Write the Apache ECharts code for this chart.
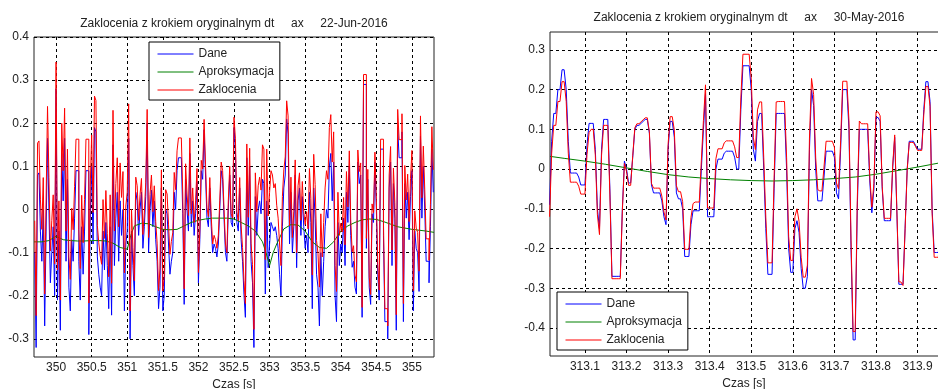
<!DOCTYPE html>
<html>
<head>
<meta charset="utf-8">
<script src="https://cdn.jsdelivr.net/npm/echarts@6/dist/echarts.min.js"></script>
<style>
html,body{margin:0;padding:0;background:#fff}
#chart{width:938px;height:389px}
</style>
</head>
<body>
<div id="chart"></div>
<script>
// ---- left plot: 22-Jun-2016, samples every 0.02 s from 349.70 s
var leftT0 = 349.70, leftDt = 0.02;
var leftDane = [
  -0.1, -0.32, 0.08, 0.085, -0.05, -0.12, 0.0, -0.27, -0.05, 0.165,
  0.0, -0.17, -0.1, -0.04, -0.2, 0.28, -0.21, -0.05, -0.28, 0.13,
  0.02, 0.165, -0.12, 0.07, -0.18, -0.235, -0.07, -0.12, -0.02, 0.09,
  0.09, -0.12, -0.21, -0.04, -0.15, -0.05, 0.09, 0.09, -0.29, -0.02,
  0.1, -0.08, 0.19, 0.18, -0.11, -0.15, -0.18, -0.2, -0.05, -0.14,
  -0.03, -0.13, -0.23, -0.04, -0.245, 0.15, -0.13, -0.02, 0.04, -0.12,
  0.02, -0.06, 0.0, -0.235, -0.08, -0.05, 0.165, -0.3, -0.05, -0.13,
  -0.2, 0.04, 0.02, -0.06, 0.0, 0.04, -0.09, -0.04, 0.03, 0.2,
  -0.1, 0.0, 0.045, -0.04, 0.02, -0.07, -0.12, -0.23, -0.18, 0.05,
  -0.235, -0.2, 0.0, -0.01, -0.08, -0.15, -0.12, -0.1, 0.04, 0.0,
  0.09, 0.12, 0.12, 0.12, -0.01, -0.22, 0.07, 0.0, -0.05, 0.13,
  -0.04, 0.02, -0.06, -0.01, 0.065, -0.17, -0.07, 0.09, 0.07, 0.185,
  0.08, -0.02, -0.04, 0.05, -0.04, -0.1, -0.08, -0.09, -0.11, -0.08,
  0.0, 0.09, 0.07, -0.02, -0.1, -0.12, 0.0, 0.08, -0.03, -0.04,
  0.19, 0.14, -0.03, -0.05, 0.05, -0.07, -0.12, -0.196, -0.25, 0.12,
  -0.06, 0.1, -0.12, -0.17, -0.32, 0.03, -0.06, 0.0, 0.02, -0.01,
  0.07, 0.06, -0.196, 0.02, -0.135, -0.08, -0.03, -0.04, -0.05, -0.04,
  -0.06, -0.09, -0.15, -0.2, -0.04, 0.05, 0.08, 0.21, 0.175, -0.08,
  0.04, -0.1, -0.04, 0.08, -0.135, 0.02, 0.05, -0.06, 0.03, -0.04,
  -0.09, -0.06, -0.1, 0.04, -0.03, -0.23, 0.05, -0.02, -0.15, -0.18,
  -0.27, -0.1, -0.2, -0.12, -0.04, 0.0, -0.02, 0.1, 0.13, 0.02,
  0.11, -0.2, -0.26, -0.03, -0.13, -0.08, -0.1, -0.02, -0.13, 0.04,
  -0.03, 0.1, -0.06, -0.134, -0.12, -0.18, -0.196, 0.11, 0.06, 0.08,
  -0.25, 0.29, 0.29, -0.09, 0.07, -0.18, -0.22, -0.01, -0.03, 0.11,
  0.0, -0.15, -0.21, 0.14, 0.14, -0.06, -0.26, -0.26, -0.3, 0.05,
  0.11, -0.13, 0.06, -0.02, -0.28, 0.19, 0.12, 0.12, 0.18, -0.26,
  0.06, -0.02, 0.04, -0.07, 0.03, 0.09, -0.235, -0.05, -0.09, -0.1,
  -0.19, 0.17, -0.02, 0.1, 0.0, -0.12, -0.12, -0.17, -0.04, 0.14, 0.04
];
var leftZakl = [
  -0.026, -0.246, 0.154, 0.159, 0.024, -0.046, 0.074, -0.196, 0.024, 0.239,
  0.074, -0.096, -0.026, 0.034, -0.126, 0.342, -0.14, 0.02, -0.21, 0.2,
  0.09, 0.235, -0.05, 0.14, -0.11, -0.162, 0.003, -0.047, 0.053, 0.163,
  0.163, -0.047, -0.137, 0.033, -0.077, 0.023, 0.163, 0.163, -0.217, 0.053,
  0.173, -0.007, 0.263, 0.253, -0.037, -0.077, -0.107, -0.127, 0.023, -0.067,
  0.044, -0.056, -0.156, 0.034, -0.171, 0.23, -0.05, 0.06, 0.12, -0.04,
  0.108, 0.028, 0.088, -0.147, 0.008, 0.04, 0.245, -0.235, 0.0, -0.088,
  -0.165, 0.075, 0.055, -0.025, 0.035, 0.072, -0.058, -0.008, 0.062, 0.232,
  -0.065, 0.035, 0.08, -0.005, 0.055, -0.028, -0.078, -0.188, -0.138, 0.092,
  -0.189, -0.154, 0.046, 0.036, -0.034, -0.104, -0.074, -0.054, 0.086, 0.046,
  0.136, 0.166, 0.166, 0.166, 0.036, -0.184, 0.106, 0.036, -0.014, 0.166,
  -0.01, 0.05, -0.03, 0.02, 0.095, -0.146, -0.046, 0.114, 0.094, 0.209,
  0.104, 0.004, -0.016, 0.074, -0.016, -0.08, -0.06, -0.07, -0.09, -0.06,
  0.02, 0.11, 0.09, 0.0, -0.08, -0.1, 0.02, 0.1, -0.01, -0.02,
  0.214, 0.164, -0.006, -0.026, 0.074, -0.038, -0.088, -0.164, -0.218, 0.152,
  -0.018, 0.142, -0.078, -0.128, -0.278, 0.085, -0.005, 0.055, 0.075, 0.045,
  0.15, 0.14, -0.116, 0.14, -0.015, 0.04, 0.09, 0.08, 0.05, 0.06,
  0.01, -0.02, -0.08, -0.13, 0.03, 0.092, 0.122, 0.252, 0.217, -0.038,
  0.075, -0.065, -0.005, 0.115, -0.1, 0.055, 0.085, -0.025, 0.065, -0.005,
  -0.035, -0.005, -0.045, 0.095, 0.025, -0.152, 0.128, 0.058, -0.072, -0.102,
  -0.18, -0.01, -0.11, -0.03, 0.05, 0.09, 0.07, 0.19, 0.22, 0.11,
  0.18, -0.13, -0.19, 0.04, -0.06, -0.032, -0.052, 0.028, -0.082, 0.088,
  0.006, 0.136, -0.024, -0.098, -0.084, -0.152, -0.168, 0.138, 0.088, 0.108,
  -0.227, 0.313, 0.313, -0.067, 0.093, -0.157, -0.197, 0.013, -0.007, 0.133,
  0.023, -0.127, -0.187, 0.163, 0.163, -0.03, -0.23, -0.23, -0.27, 0.08,
  0.146, -0.094, 0.096, 0.016, -0.244, 0.232, 0.162, 0.162, 0.222, -0.218,
  0.102, 0.022, 0.082, -0.028, 0.072, 0.137, -0.188, -0.003, -0.043, -0.053,
  -0.143, 0.217, 0.027, 0.147, 0.047, -0.068, -0.068, -0.118, 0.012, 0.192, 0.092
];
var leftAproxT = [
  349.69, 349.8, 349.9, 350.0, 350.1, 350.2, 350.3, 350.4, 350.5, 350.6,
  350.7, 350.8, 350.9, 351.0, 351.05, 351.1, 351.2, 351.3, 351.4, 351.5,
  351.6, 351.7, 351.8, 351.9, 352.0, 352.1, 352.2, 352.3, 352.4, 352.5,
  352.6, 352.7, 352.8, 352.9, 352.95, 353.0, 353.05, 353.1, 353.2, 353.3,
  353.4, 353.5, 353.6, 353.7, 353.8, 353.9, 354.0, 354.1, 354.2, 354.3,
  354.4, 354.5, 354.6, 354.7, 354.8, 354.9, 355.0, 355.1, 355.2, 355.31
];
var leftAproxV = [
  -0.075, -0.075, -0.072, -0.062, -0.07, -0.072, -0.073, -0.073, -0.072, -0.072,
  -0.073, -0.078, -0.088, -0.092, -0.06, -0.038, -0.032, -0.033, -0.04, -0.046,
  -0.047, -0.046, -0.038, -0.03, -0.025, -0.022, -0.02, -0.02, -0.02, -0.022,
  -0.03, -0.038, -0.05, -0.075, -0.1, -0.13, -0.1, -0.08, -0.045, -0.035,
  -0.036, -0.05, -0.075, -0.088, -0.09, -0.075, -0.05, -0.038, -0.03, -0.024,
  -0.022, -0.023, -0.028, -0.034, -0.04, -0.043, -0.046, -0.048, -0.05, -0.053
];
var leftXTicks = [350, 350.5, 351, 351.5, 352, 352.5, 353, 353.5, 354, 354.5, 355];
var leftYTicks = [-0.3, -0.2, -0.1, 0, 0.1, 0.2, 0.3, 0.4];

// ---- right plot: 30-May-2016, samples every 0.005 s from 313.015 s
var rightT0 = 313.015, rightDt = 0.005;
var rightDane = [
  -0.09, 0.07, 0.14, 0.14, 0.2, 0.2, 0.25, 0.25, 0.2, 0.07,
  -0.01, -0.01, -0.01, -0.01, -0.02, -0.04, -0.04, -0.04, 0.06, 0.115,
  0.115, 0.115, 0.05, -0.1, -0.15, 0.05, 0.125, 0.125, 0.125, -0.05,
  -0.27, -0.27, -0.27, -0.27, -0.27, -0.1, 0.02, 0.0, -0.035, -0.035,
  0.03, 0.1, 0.11, 0.11, 0.115, 0.12, 0.125, 0.125, 0.09, -0.04,
  -0.06, -0.06, -0.06, -0.06, -0.08, -0.12, -0.14, 0.05, 0.12, 0.12,
  0.08, -0.06, -0.075, -0.075, -0.1, -0.22, -0.22, -0.22, -0.14, -0.105,
  -0.105, -0.105, -0.105, 0.0, 0.1, 0.19, -0.12, -0.12, -0.12, -0.12,
  0.0, 0.025, 0.025, 0.025, 0.04, 0.045, 0.045, 0.045, 0.045, 0.03,
  0.0, 0.0, 0.15, 0.26, 0.26, 0.26, 0.26, 0.2, 0.05, 0.02,
  0.12, 0.14, 0.14, 0.0, -0.15, -0.265, -0.265, -0.265, -0.05, 0.14,
  0.14, 0.14, 0.14, 0.14, 0.0, -0.2, -0.26, -0.26, -0.15, -0.13,
  -0.16, -0.25, -0.3, -0.3, -0.27, 0.05, 0.2, 0.16, 0.0, -0.08,
  -0.08, -0.08, -0.02, 0.045, 0.045, 0.045, 0.045, 0.03, -0.06, -0.075,
  0.05, 0.2, 0.2, 0.2, 0.1, -0.2, -0.43, -0.43, -0.1, 0.1,
  0.1, 0.1, 0.1, 0.1, -0.03, -0.11, -0.05, 0.13, 0.13, 0.12,
  -0.05, -0.13, -0.13, -0.13, -0.13, 0.0, 0.08, -0.1, -0.29, -0.29,
  -0.29, -0.15, 0.0, 0.07, 0.07, 0.07, 0.06, 0.05, 0.05, 0.05,
  0.15, 0.22, 0.22, 0.17, -0.1, -0.21, -0.21, -0.21, -0.1
];
var rightZakl = [
  -0.12, 0.04, 0.11, 0.11, 0.17, 0.17, 0.22, 0.22, 0.17, 0.04,
  -0.033, -0.033, -0.033, -0.033, -0.043, -0.063, -0.063, -0.063, 0.037, 0.092,
  0.1, 0.1, 0.035, -0.115, -0.165, 0.035, 0.11, 0.11, 0.11, -0.065,
  -0.276, -0.276, -0.276, -0.276, -0.276, -0.106, 0.014, -0.006, -0.041, -0.041,
  0.034, 0.104, 0.114, 0.114, 0.119, 0.124, 0.129, 0.129, 0.094, -0.036,
  -0.048, -0.048, -0.048, -0.048, -0.068, -0.108, -0.128, 0.062, 0.132, 0.132,
  0.098, -0.042, -0.057, -0.057, -0.082, -0.202, -0.202, -0.202, -0.122, -0.087,
  -0.083, -0.083, -0.083, 0.022, 0.122, 0.212, -0.098, -0.098, -0.098, -0.098,
  0.026, 0.051, 0.051, 0.051, 0.066, 0.071, 0.071, 0.071, 0.071, 0.056,
  0.029, 0.029, 0.179, 0.289, 0.289, 0.289, 0.289, 0.229, 0.079, 0.049,
  0.149, 0.169, 0.169, 0.029, -0.121, -0.236, -0.236, -0.236, -0.021, 0.169,
  0.17, 0.17, 0.17, 0.17, 0.03, -0.17, -0.23, -0.23, -0.12, -0.1,
  -0.132, -0.222, -0.272, -0.272, -0.242, 0.078, 0.228, 0.188, 0.028, -0.052,
  -0.055, -0.055, 0.005, 0.07, 0.07, 0.07, 0.07, 0.055, -0.035, -0.05,
  0.071, 0.221, 0.221, 0.221, 0.121, -0.179, -0.409, -0.409, -0.079, 0.121,
  0.114, 0.114, 0.114, 0.114, -0.016, -0.096, -0.036, 0.144, 0.144, 0.134,
  -0.044, -0.124, -0.124, -0.124, -0.124, 0.006, 0.086, -0.094, -0.284, -0.284,
  -0.293, -0.153, -0.003, 0.067, 0.067, 0.067, 0.057, 0.047, 0.047, 0.047,
  0.138, 0.208, 0.208, 0.158, -0.112, -0.222, -0.222, -0.222, -0.112
];
var rightAproxT = [
  313.016, 313.05, 313.1, 313.15, 313.2, 313.25, 313.3, 313.35, 313.4, 313.45,
  313.5, 313.55, 313.6, 313.65, 313.7, 313.75, 313.8, 313.85, 313.9, 313.95, 313.978
];
var rightAproxV = [
  0.032, 0.027, 0.02, 0.012, 0.003, -0.006, -0.014, -0.02, -0.024, -0.027,
  -0.029, -0.03, -0.029, -0.027, -0.024, -0.02, -0.013, -0.004, 0.005, 0.015, 0.021
];
var rightXTicks = [313.1, 313.2, 313.3, 313.4, 313.5, 313.6, 313.7, 313.8, 313.9];
var rightYTicks = [-0.4, -0.3, -0.2, -0.1, 0, 0.1, 0.2, 0.3];

var titleText = 'Zaklocenia z krokiem oryginalnym dt     ax     ';
var FONT = '"Liberation Sans", Arial, sans-serif';
var TXT = '#222';

function sampled(t0, dt, vals) {
  return vals.map(function (v, i) { return [+(t0 + i * dt).toFixed(4), v]; });
}
function knots(ts, vs) {
  return ts.map(function (t, i) { return [t, vs[i]]; });
}

function xAxisFor(gi, min, max, ticks, namePad) {
  return {
    gridIndex: gi, type: 'value', min: min, max: max,
    name: 'Czas [s]', nameLocation: 'middle', nameGap: 20,
    nameTextStyle: { color: TXT, fontSize: 12, fontFamily: FONT, padding: namePad || 0 },
    axisLine: { show: false },
    axisTick: { show: false, customValues: ticks },
    axisLabel: { customValues: ticks, color: TXT, fontSize: 12, fontFamily: FONT, margin: 5 },
    splitLine: { show: true, lineStyle: { color: '#000', type: [3, 3], width: 1 } }
  };
}
function yAxisFor(gi, min, max, ticks) {
  return {
    gridIndex: gi, type: 'value', min: min, max: max,
    axisLine: { show: false },
    axisTick: { show: false, customValues: ticks },
    axisLabel: { customValues: ticks, color: TXT, fontSize: 12, fontFamily: FONT, margin: 5 },
    splitLine: { show: true, lineStyle: { color: '#000', type: [3, 3], width: 1 } }
  };
}
function lineSeries(name, gi, data, color, step) {
  return {
    name: name, type: 'line', xAxisIndex: gi, yAxisIndex: gi,
    data: data, step: step || false, symbol: 'none', showSymbol: false,
    lineStyle: { color: color, width: 1 }, itemStyle: { color: color },
    emphasis: { disabled: true }
  };
}
function legendAt(left, top) {
  return {
    orient: 'vertical', left: left, top: top,
    data: ['Dane', 'Aproksymacja', 'Zaklocenia'],
    itemWidth: 36, itemHeight: 14, itemGap: 4,
    padding: [5, 6, 3, 8],
    itemStyle: { opacity: 0 },
    lineStyle: { width: 1 },
    backgroundColor: '#fff', borderColor: '#000', borderWidth: 1,
    textStyle: { color: TXT, fontSize: 12, fontFamily: FONT, lineHeight: 14 },
    selectedMode: false
  };
}

var chart = echarts.init(document.getElementById('chart'));
chart.setOption({
  animation: false,
  backgroundColor: '#fff',
  title: [
    { text: titleText + '22-Jun-2016', left: 234, top: 17.5, textAlign: 'center', padding: 0,
      textStyle: { color: TXT, fontSize: 12, fontWeight: 'normal', fontFamily: FONT } },
    { text: titleText + '30-May-2016', left: 749, top: 11.5, textAlign: 'center', padding: 0,
      textStyle: { color: TXT, fontSize: 12, fontWeight: 'normal', fontFamily: FONT } }
  ],
  legend: [legendAt(149, 42), legendAt(557, 292)],
  grid: [
    { left: 34, top: 37, width: 400, height: 320, show: true, borderColor: '#222', borderWidth: 1,
      backgroundColor: 'transparent', containLabel: false, outerBoundsMode: 'none' },
    { left: 550, top: 32, width: 400, height: 324, show: true, borderColor: '#222', borderWidth: 1,
      backgroundColor: 'transparent', containLabel: false, outerBoundsMode: 'none' }
  ],
  xAxis: [
    xAxisFor(0, 349.69, 355.31, leftXTicks),
    xAxisFor(1, 313.016, 313.978, rightXTicks, [0, 12, 0, 0])
  ],
  yAxis: [
    yAxisFor(0, -0.342, 0.4, leftYTicks),
    yAxisFor(1, -0.4705, 0.345, rightYTicks)
  ],
  series: [
    lineSeries('Dane', 0, sampled(leftT0, leftDt, leftDane), '#0000ff', 'end'),
    lineSeries('Aproksymacja', 0, knots(leftAproxT, leftAproxV), '#008000'),
    lineSeries('Zaklocenia', 0, sampled(leftT0, leftDt, leftZakl), '#ff0000', 'end'),
    lineSeries('Dane', 1, sampled(rightT0, rightDt, rightDane), '#0000ff'),
    lineSeries('Aproksymacja', 1, knots(rightAproxT, rightAproxV), '#008000'),
    lineSeries('Zaklocenia', 1, sampled(rightT0, rightDt, rightZakl), '#ff0000')
  ]
});
</script>
</body>
</html>
